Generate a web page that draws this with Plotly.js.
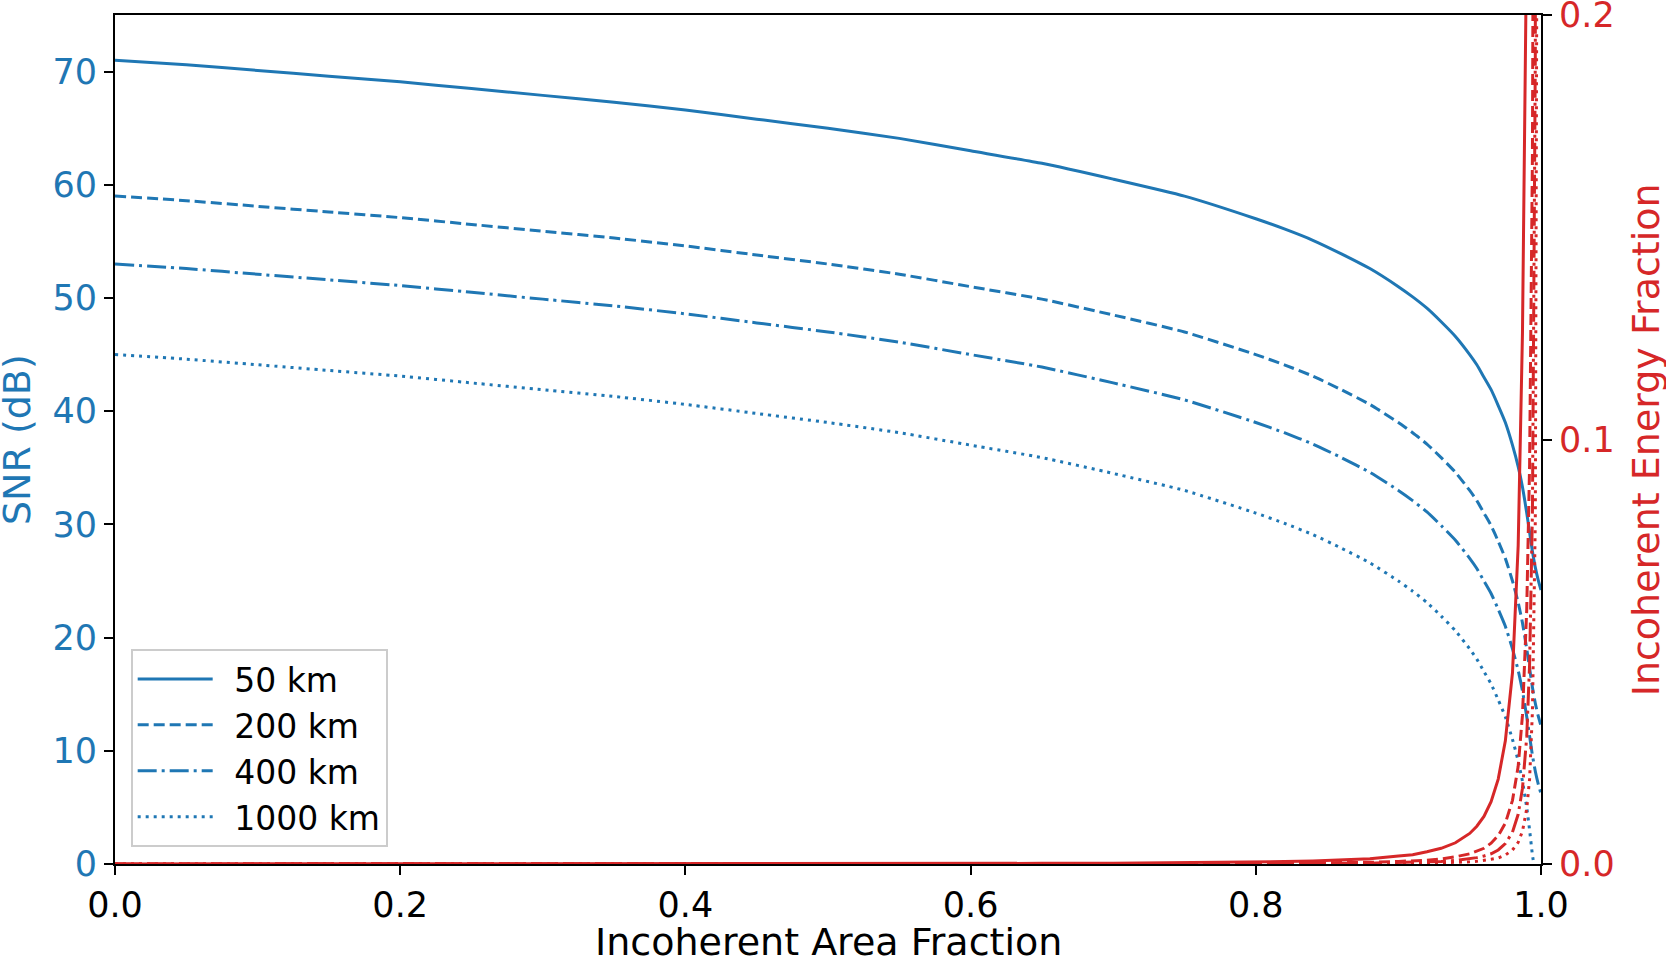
<!DOCTYPE html>
<html>
<head>
<meta charset="utf-8">
<script src="https://cdn.plot.ly/plotly-3.0.1.min.js"></script>
<style>
  html, body { margin: 0; padding: 0; background: #fff; }
  #snr-plot { width: 1666px; height: 959px; }
</style>
</head>
<body>
<div id="snr-plot"></div>
<script>
// ── Data ─────────────────────────────────────────────────────────────

const areaFraction = [0, 0.05, 0.1, 0.15, 0.2, 0.25, 0.3, 0.35, 0.4, 0.45, 0.5,
    0.55, 0.6, 0.65, 0.7, 0.75, 0.8, 0.82, 0.84, 0.86, 0.88, 0.9, 0.91, 0.92,
    0.93, 0.94, 0.95, 0.955, 0.96, 0.965, 0.97, 0.975, 0.98, 0.984, 0.987, 0.99,
    0.992, 0.994, 0.996, 0.998, 1.0];

const distances = ['50 km', '200 km', '400 km', '1000 km'];

// SNR (dB), left axis
const snr50 = [71.0, 70.6, 70.1, 69.6, 69.1, 68.5, 67.9, 67.3, 66.6, 65.8, 65.0,
    64.1, 63.0, 61.9, 60.5, 59.0, 57.0, 56.1, 55.1, 53.9, 52.6, 51.0, 50.1, 49.1,
    47.9, 46.6, 45.0, 44.1, 43.0, 41.9, 40.5, 39.0, 37.0, 35.1, 33.3, 31.0,
    29.3, 27.6, 26.2, 25.1, 24.2];
const snr200 = [59.0, 58.6, 58.1, 57.6, 57.1, 56.5, 55.9, 55.3, 54.6, 53.8, 53.0,
    52.1, 51.0, 49.9, 48.5, 47.0, 45.0, 44.1, 43.1, 41.9, 40.6, 39.0, 38.1, 37.1,
    35.9, 34.6, 33.0, 32.1, 31.0, 29.9, 28.5, 27.0, 25.0, 23.1, 21.3, 19.0,
    17.3, 15.6, 14.2, 13.1, 12.2];
const snr400 = [53.0, 52.6, 52.1, 51.6, 51.1, 50.5, 49.9, 49.3, 48.6, 47.8, 47.0,
    46.1, 45.0, 43.9, 42.5, 41.0, 39.0, 38.1, 37.1, 35.9, 34.6, 33.0, 32.1, 31.1,
    29.9, 28.6, 27.0, 26.1, 25.0, 23.9, 22.5, 21.0, 19.0, 17.1, 15.3, 13.0,
    11.3, 9.6, 8.2, 7.1, 6.2];
const snr1000 = [45.0, 44.6, 44.1, 43.6, 43.1, 42.5, 41.9, 41.3, 40.6, 39.8, 39.0,
    38.1, 37.0, 35.9, 34.5, 33.0, 31.0, 30.1, 29.1, 27.9, 26.6, 25.0, 24.1, 23.1,
    21.9, 20.6, 19.0, 18.1, 17.0, 15.9, 14.5, 13.0, 11.0, 9.1, 7.3, 5.0,
    3.0, 0.8, -0.8, null, null];

// Incoherent energy fraction, right axis
const energy50 = [0.00002, 0.00002, 0.00002, 0.00003, 0.00003, 0.00003, 0.00004,
    0.00004, 0.00005, 0.00006, 0.00007, 0.00009, 0.00011, 0.00015, 0.0002, 0.0003,
    0.00045, 0.00056, 0.0007, 0.00092, 0.00125, 0.0019, 0.0022, 0.0029, 0.0037,
    0.005, 0.0072, 0.0089, 0.0112, 0.0147, 0.02, 0.029, 0.045, 0.075, 0.125, 0.22,
    null, null, null, null, null];
const energy200 = [0.00001, 0.00001, 0.00001, 0.00001, 0.00001, 0.00001, 0.00001,
    0.00001, 0.00001, 0.00001, 0.00002, 0.00003, 0.00004, 0.00005, 0.00007, 0.0001,
    0.00015, 0.00019, 0.00023, 0.00031, 0.0004, 0.0006, 0.00074, 0.0009, 0.0012,
    0.0017, 0.0024, 0.003, 0.0037, 0.0049, 0.0067, 0.0096, 0.015, 0.023, 0.035, 0.06,
    0.094, 0.167, 0.375, null, null];
const energy400 = [0.00001, 0.00001, 0.00001, 0.00001, 0.00001, 0.00001, 0.00001,
    0.00001, 0.00001, 0.00001, 0.00001, 0.00001, 0.00001, 0.00001, 0.00003, 0.00005,
    0.000075, 0.000093, 0.00012, 0.00015, 0.0002, 0.0003, 0.00037, 0.00047, 0.00061,
    0.00083, 0.0012, 0.0015, 0.0019, 0.0024, 0.0033, 0.0048, 0.0075, 0.0117, 0.0178,
    0.03, 0.047, 0.083, 0.19, 0.75, null];
const energy1000 = [0.00001, 0.00001, 0.00001, 0.00001, 0.00001, 0.00001, 0.00001,
    0.00001, 0.00001, 0.00001, 0.00001, 0.00001, 0.00001, 0.00001, 0.00001, 0.00001,
    0.00003, 0.00004, 0.00005, 0.00007, 0.00009, 0.00013, 0.00016, 0.0002, 0.00027,
    0.00036, 0.00052, 0.00064, 0.0008, 0.0011, 0.0014, 0.0021, 0.0033, 0.0051, 0.0077,
    0.013, 0.02, 0.036, 0.081, 0.325, null];

const xTicks = [0, 0.2, 0.4, 0.6, 0.8, 1.0];
const snrTicks = [0, 10, 20, 30, 40, 50, 60, 70];
const energyTicks = [0, 0.1, 0.2];
const energyTickText = ['0.0', '0.1', '0.2'];

const xTitle = 'Incoherent Area Fraction';
const snrTitle = 'SNR (dB)';
const energyTitle = 'Incoherent Energy Fraction';

// ── Styling ──────────────────────────────────────────────────────────

const BLUE = '#1f77b4';
const RED = '#d62728';
const FONT = 'DejaVu Sans, sans-serif';
// solid, dashed, dash-dot, dotted (matplotlib-ish patterns at lw ~3px)
const dashes = ['solid', '11px,5px', '19px,5px,3px,5px', '3px,5px'];

const snrSeries = [snr50, snr200, snr400, snr1000];
const energySeries = [energy50, energy200, energy400, energy1000];

const traces = [];
snrSeries.forEach((ys, i) => {
    traces.push({
        x: areaFraction, y: ys,
        type: 'scatter', mode: 'lines',
        // leading en space opens the gap between sample line and label
        name: '\u2002' + distances[i],
        line: { color: BLUE, width: 3, dash: dashes[i], shape: 'spline', smoothing: 0.5 },
        connectgaps: false,
        yaxis: 'y'
    });
});
energySeries.forEach((ys, i) => {
    traces.push({
        x: areaFraction, y: ys,
        type: 'scatter', mode: 'lines',
        name: distances[i] + ' energy',
        showlegend: false,
        line: { color: RED, width: 3, dash: dashes[i] },
        connectgaps: false,
        yaxis: 'y2'
    });
});

const axisCommon = {
    showline: true, linecolor: '#000', linewidth: 2,
    ticks: 'outside', ticklen: 9, tickwidth: 2, tickcolor: '#000',
    showgrid: false, zeroline: false, automargin: false,
    ticklabeloverflow: 'allow'
};

// Axis titles as paper annotations: with fixed margins, title.standoff is
// ignored, and these need to sit where matplotlib put them.
const titleAnnotations = [
    {
        text: xTitle, xref: 'paper', yref: 'paper', x: 0.5, y: -0.092,
        xanchor: 'center', yanchor: 'middle', showarrow: false,
        font: { size: 38, family: FONT, color: '#000' }
    },
    {
        text: snrTitle, xref: 'paper', yref: 'paper', x: -0.069, y: 0.5,
        xanchor: 'center', yanchor: 'middle', textangle: -90, showarrow: false,
        font: { size: 38, family: FONT, color: BLUE }
    },
    {
        text: energyTitle, xref: 'paper', yref: 'paper', x: 1.0735, y: 0.5,
        xanchor: 'center', yanchor: 'middle', textangle: -90, showarrow: false,
        font: { size: 38, family: FONT, color: RED }
    }
];

const layout = {
    width: 1666, height: 959,
    margin: { l: 115, r: 125, t: 15, b: 95 },
    paper_bgcolor: '#fff', plot_bgcolor: '#fff',
    font: { family: FONT, color: '#000' },
    showlegend: true,
    legend: {
        x: 0.011, y: 0.02, xanchor: 'left', yanchor: 'bottom',
        bgcolor: 'rgba(255,255,255,0.8)', bordercolor: '#cccccc', borderwidth: 2,
        font: { size: 33, family: FONT, color: '#000' },
        itemwidth: 75,
        tracegroupgap: 0
    },
    xaxis: Object.assign({}, axisCommon, {
        range: [0, 1], mirror: true,
        tickmode: 'array', tickvals: xTicks, tickformat: '.1f',
        tickfont: { size: 35, family: FONT, color: '#000' }
    }),
    yaxis: Object.assign({}, axisCommon, {
        range: [0, 75],
        tickmode: 'array', tickvals: snrTicks,
        tickfont: { size: 35, family: FONT, color: BLUE }
    }),
    yaxis2: Object.assign({}, axisCommon, {
        range: [0, 0.2], overlaying: 'y', side: 'right',
        tickmode: 'array', tickvals: energyTicks, ticktext: energyTickText,
        tickfont: { size: 35, family: FONT, color: RED }
    }),
    annotations: titleAnnotations
};

Plotly.newPlot('snr-plot', traces, layout, { staticPlot: true });
</script>
</body>
</html>
